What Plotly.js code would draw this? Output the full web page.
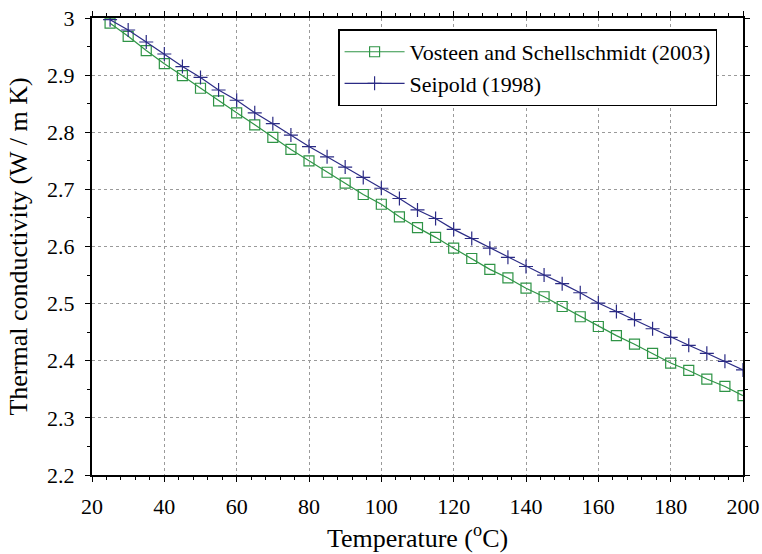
<!DOCTYPE html>
<html>
<head>
<meta charset="utf-8">
<script src="https://cdn.plot.ly/plotly-3.0.1.min.js"></script>
<style>html,body{margin:0;padding:0;background:#fff;}#chart{width:762px;height:554px;}</style>
</head>
<body>
<div id="chart"></div>
<script>
const temperature = [25,30,35,40,45,50,55,60,65,70,75,80,85,90,95,100,105,110,115,120,125,130,135,140,145,150,155,160,165,170,175,180,185,190,195,200];
const vosteen = [2.991,2.968,2.943,2.920,2.899,2.877,2.855,2.834,2.813,2.791,2.770,2.750,2.730,2.711,2.691,2.674,2.652,2.633,2.616,2.597,2.579,2.560,2.545,2.527,2.512,2.495,2.477,2.460,2.444,2.429,2.413,2.396,2.383,2.368,2.355,2.339];
const seipold = [2.997,2.979,2.958,2.937,2.915,2.896,2.874,2.856,2.834,2.815,2.795,2.775,2.757,2.739,2.721,2.702,2.684,2.664,2.649,2.630,2.614,2.597,2.581,2.565,2.550,2.535,2.519,2.501,2.486,2.472,2.456,2.441,2.427,2.413,2.399,2.384];
const seriesNames = ["Vosteen and Schellschmidt (2003)", "Seipold (1998)"];
const xTicks = [20,40,60,80,100,120,140,160,180,200];
const yTicks = [2.2,2.3,2.4,2.5,2.6,2.7,2.8,2.9,3];
const yTickText = ["2.2","2.3","2.4","2.5","2.6","2.7","2.8","2.9","3"];

const serif = "Liberation Serif";
const green = "#2f9446";
const navy = "#2b2b85";

const traces = [
  {x: temperature, y: vosteen, name: seriesNames[0], type: "scatter", mode: "lines+markers",
   line: {color: green, width: 1.2},
   marker: {symbol: "square-open", size: 10, color: green, line: {color: green, width: 1.2}}},
  {x: temperature, y: seipold, name: seriesNames[1], type: "scatter", mode: "lines+markers",
   line: {color: navy, width: 1.2},
   marker: {symbol: "cross-thin-open", size: 10, color: navy, line: {color: navy, width: 1.2}}}
];

const axisCommon = {
  showline: true, linecolor: "#000", linewidth: 2, mirror: "allticks",
  ticks: "outside", ticklen: 5, tickwidth: 1, tickcolor: "#000",
  showgrid: true, gridcolor: "#9a9a9a", griddash: "dot", gridwidth: 1,
  zeroline: false, tickfont: {family: serif, size: 22, color: "#000"}
};

const layout = {
  width: 762, height: 554,
  margin: {l: 92, r: 19, t: 18, b: 79},
  paper_bgcolor: "#fff", plot_bgcolor: "#fff",
  font: {family: serif, color: "#000"},
  showlegend: true,
  legend: {x: 0.378, xanchor: "left", y: 0.975, yanchor: "top",
           bgcolor: "#fff", bordercolor: "#000", borderwidth: 1.5,
           font: {family: serif, size: 22, color: "#000"}, itemwidth: 60},
  xaxis: Object.assign({}, axisCommon, {
    range: [20, 200], tickmode: "array", tickvals: xTicks,
    ticklabelstandoff: 6,
    minor: {dtick: 4, ticks: "outside", ticklen: 3, tickcolor: "#000", showgrid: false},
    title: {text: "Temperature (<sup>o</sup>C)", font: {family: serif, size: 26, color: "#000"}, standoff: 10}
  }),
  yaxis: Object.assign({}, axisCommon, {
    range: [2.2, 3], tickmode: "array", tickvals: yTicks, ticktext: yTickText,
    ticklabelstandoff: 6,
    minor: {dtick: 0.05, ticks: "outside", ticklen: 3, tickcolor: "#000", showgrid: false},
    title: {text: "Thermal conductivity (W / m K)", font: {family: serif, size: 26, color: "#000"}, standoff: 12}
  })
};

Plotly.newPlot("chart", traces, layout, {displayModeBar: false, staticPlot: true});
</script>
</body>
</html>
